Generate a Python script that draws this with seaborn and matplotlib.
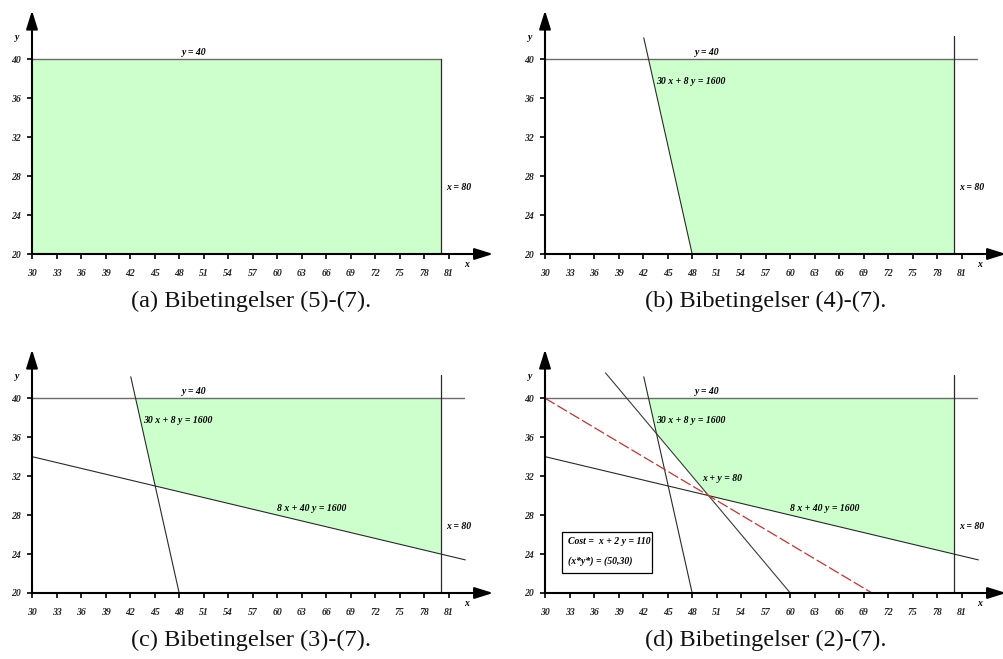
import numpy as np
import matplotlib
matplotlib.use("Agg")
import matplotlib.pyplot as plt
from matplotlib.patches import Polygon, Rectangle
import pandas as pd
import seaborn as sns

# ---- data ---------------------------------------------------------------
x_ticks = list(range(30, 82, 3))
y_ticks = [20, 24, 28, 32, 36, 40]

# constraints written as a*x + b*y = c
line_y40 = (0, 1, 40)
line_x80 = (1, 0, 80)
line_protein = (30, 8, 1600)
line_fiber = (8, 40, 1600)
line_total = (1, 1, 80)
line_cost = (1, 2, 110)
axis_x30 = (1, 0, 30)
axis_y20 = (0, 1, 20)

optimum = (50, 30)
cost_value = 110

captions = ["(a) Bibetingelser (5)-(7).", "(b) Bibetingelser (4)-(7).",
            "(c) Bibetingelser (3)-(7).", "(d) Bibetingelser (2)-(7)."]

# boundary of the feasible region, walked in order, for every panel
regions = [
    [axis_x30, line_y40, line_x80, axis_y20],
    [line_protein, line_y40, line_x80, axis_y20],
    [line_protein, line_y40, line_x80, line_fiber],
    [line_protein, line_y40, line_x80, line_fiber, line_total],
]

# ---- style --------------------------------------------------------------
sns.set_theme(style="white")
plt.rcParams["font.family"] = ["Liberation Serif", "DejaVu Serif"]

W, H = 1004, 659
SX, SY = 8.176, 9.74          # pixels per data unit
XL, YL = (26.5, 88.0), (17.0, 46.0)
origins = [(32, 254), (545, 254), (32, 593), (545, 593)]
caption_pos = [(251, 301), (766, 301), (251, 640), (766, 640)]

FILL = "#ccffcc"
EDGE = "#6b6b6b"
DARK = "#2a2a2a"
lab_kw = dict(fontsize=7, fontweight="bold", fontstyle="italic", color="black")


def intersect(l1, l2):
    A = np.array([[l1[0], l1[1]], [l2[0], l2[1]]], float)
    c = np.array([l1[2], l2[2]], float)
    return np.linalg.solve(A, c)


def segment(line, x_range=None, y_range=None):
    a, b, c = line
    if x_range is not None:
        xs = np.array(x_range, float)
        ys = (c - a * xs) / b
    else:
        ys = np.array(y_range, float)
        xs = (c - b * ys) / a
    return pd.DataFrame({"x": xs, "y": ys})


def draw(ax, df, color=DARK, lw=0.8, **kw):
    sns.lineplot(data=df, x="x", y="y", ax=ax, color=color, lw=lw,
                 estimator=None, sort=False, zorder=3, **kw)


fig = plt.figure(figsize=(W / 100, H / 100), dpi=100)

for i, (ox, oy) in enumerate(origins):
    left = (ox + (XL[0] - 30) * SX) / W
    bottom = (H - (oy + (20 - YL[0]) * SY)) / H
    ax = fig.add_axes([left, bottom, (XL[1] - XL[0]) * SX / W,
                       (YL[1] - YL[0]) * SY / H])
    ax.set_xlim(*XL)
    ax.set_ylim(*YL)
    ax.patch.set_alpha(0)

    # feasible region
    verts = [intersect(regions[i][k], regions[i][(k + 1) % len(regions[i])])
             for k in range(len(regions[i]))]
    ax.add_patch(Polygon(verts, closed=True, facecolor=FILL, edgecolor="none", zorder=1))

    # constraint lines
    if i == 0:
        draw(ax, segment(line_y40, x_range=(30, 80)), color=EDGE, lw=1.0)
        draw(ax, segment(line_x80, y_range=(20, 40)), color=DARK, lw=0.9)
    else:
        draw(ax, segment(line_y40, x_range=(30, 82.8)), color=EDGE, lw=1.0)
        draw(ax, segment(line_x80, y_range=(20, 42.4)), color=DARK, lw=0.9)
        draw(ax, segment(line_protein, y_range=(42.2, 20)))
        ax.text(43.6, 37.75, "30 x + 8 y = 1600", ha="left", va="center", **lab_kw)
    if i >= 2:
        draw(ax, segment(line_fiber, x_range=(30, 83)))
        ax.text(60.0, 28.7, "8 x + 40 y = 1600", ha="left", va="center", **lab_kw)
    if i == 3:
        draw(ax, segment(line_total, y_range=(42.6, 20)), color="#3a3a3a")
        ax.text(49.2, 31.8, "x + y = 80", ha="left", va="center", **lab_kw)
        draw(ax, segment(line_cost, x_range=(30, 70)), color="#cc3030", lw=0.9,
             dashes=(9, 2.5))
        ax.add_patch(Rectangle((32.1, 22.1), 11.0, 4.2, facecolor="white",
                               edgecolor="black", lw=0.9, zorder=4))
        ax.text(32.8, 25.3, f"Cost =  x + 2 y = {cost_value}", ha="left",
                va="center", zorder=5, **lab_kw)
        ax.text(32.8, 23.25, f"(x*y*) = ({optimum[0]},{optimum[1]})", ha="left",
                va="center", zorder=5, **lab_kw)

    ax.text(48.4, 40.2, "y = 40", ha="left", va="bottom", **lab_kw)
    ax.text(80.7, 26.8, "x = 80", ha="left", va="center", **lab_kw)

    # axes with arrow heads
    for s in ax.spines.values():
        s.set_visible(False)
    ax.spines["left"].set_position(("data", 30))
    ax.spines["bottom"].set_position(("data", 20))
    arrow = dict(arrowstyle="-|>,head_length=0.8,head_width=0.25",
                 mutation_scale=14, lw=1.5, color="black", shrinkA=0, shrinkB=0)
    ax.annotate("", xy=(86.4, 20), xytext=(30, 20), arrowprops=arrow, zorder=6)
    ax.annotate("", xy=(30, 45.0), xytext=(30, 20), arrowprops=arrow, zorder=6)

    ax.set_xticks(x_ticks, [str(t) for t in x_ticks], fontsize=7,
                  fontweight="bold", fontstyle="italic")
    ax.set_yticks(y_ticks, [str(t) for t in y_ticks], fontsize=7,
                  fontweight="bold", fontstyle="italic")
    ax.tick_params(axis="x", bottom=True, direction="out", length=3.5, width=1.2,
                   pad=7.5, color="black")
    ax.tick_params(axis="y", left=True, direction="out", length=3.5, width=1.2,
                   pad=4.5, color="black")
    ax.set_xlabel("")
    ax.set_ylabel("")
    ax.grid(False)

    ax.text(83.1, 18.9, "x", ha="center", va="center", **lab_kw)
    ax.text(28.2, 42.2, "y", ha="center", va="center", **lab_kw)

    cx, cy = caption_pos[i]
    fig.text(cx / W, 1 - cy / H, captions[i], ha="center", va="center",
             fontsize=17.5, color="#111111")

fig.savefig("out.png", dpi=100)
